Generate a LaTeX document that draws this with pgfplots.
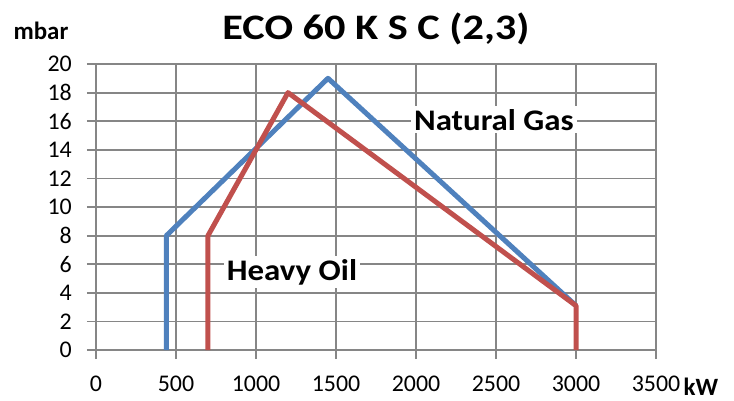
\documentclass[border=0pt]{standalone}
\usepackage{fontspec}
\setmainfont{Carlito}
\newfontfamily\titlefont[FakeStretch=1.18]{Carlito}
\newfontfamily\labelfont[FakeStretch=1.1]{Carlito}
\usepackage{pgfplots}
\pgfplotsset{compat=1.18}
\definecolor{gasblue}{HTML}{4F81BD}
\definecolor{oilred}{HTML}{C0504D}
\definecolor{gridgray}{HTML}{868686}
\begin{document}
\begin{tikzpicture}
\begin{axis}[
  scale only axis, width=560bp, height=286bp,
  xmin=0, xmax=3500, ymin=0, ymax=20,
  xtick={0,500,...,3500}, ytick={0,2,...,20},
  grid=major, grid style={gridgray, line width=1.8bp},
  axis line style={gridgray, line width=1.8bp},
  tick style={gridgray, line width=1.8bp},
  tick align=outside, major tick length=9bp, tick pos=left,
  ticklabel style={font=\fontsize{24}{24}\selectfont, text=black, inner sep=2bp},
  /pgf/number format/assume math mode=true,
  /pgf/number format/set thousands separator={},
  xticklabel style={yshift=-15bp},
  yticklabel style={xshift=-13bp},
  clip=false
]
\addplot[gasblue, line width=5bp, line join=round] coordinates {(440,0) (440,8) (1450,19) (3000,3.1)};
\addplot[oilred, line width=5bp, line join=round] coordinates {(700,0) (700,8) (1200,18) (3000,3.1) (3000,0)};
\node[fill=white, inner sep=3bp, font=\labelfont\bfseries\fontsize{30}{30}\selectfont] at (axis cs:2487,16.1) {Natural Gas};
\node[fill=white, inner sep=3bp, font=\labelfont\bfseries\fontsize{30}{30}\selectfont] at (axis cs:1225,5.45) {Heavy Oil};
\node[font=\titlefont\bfseries\fontsize{36}{36}\selectfont] at ([yshift=35bp]rel axis cs:0.5,1) {ECO 60 K S C (2,3)};
\node[font=\bfseries\fontsize{25}{25}\selectfont] at ([xshift=-55bp,yshift=33bp]rel axis cs:0,1) {mbar};
\node[font=\bfseries\fontsize{25}{25}\selectfont] at ([xshift=45bp,yshift=-37bp]rel axis cs:1,0) {kW};
\end{axis}
\pgfresetboundingbox
\path ([xshift=-96bp,yshift=-51bp]current axis.south west) rectangle ([xshift=78bp,yshift=64bp]current axis.north east);
\end{tikzpicture}
\end{document}
